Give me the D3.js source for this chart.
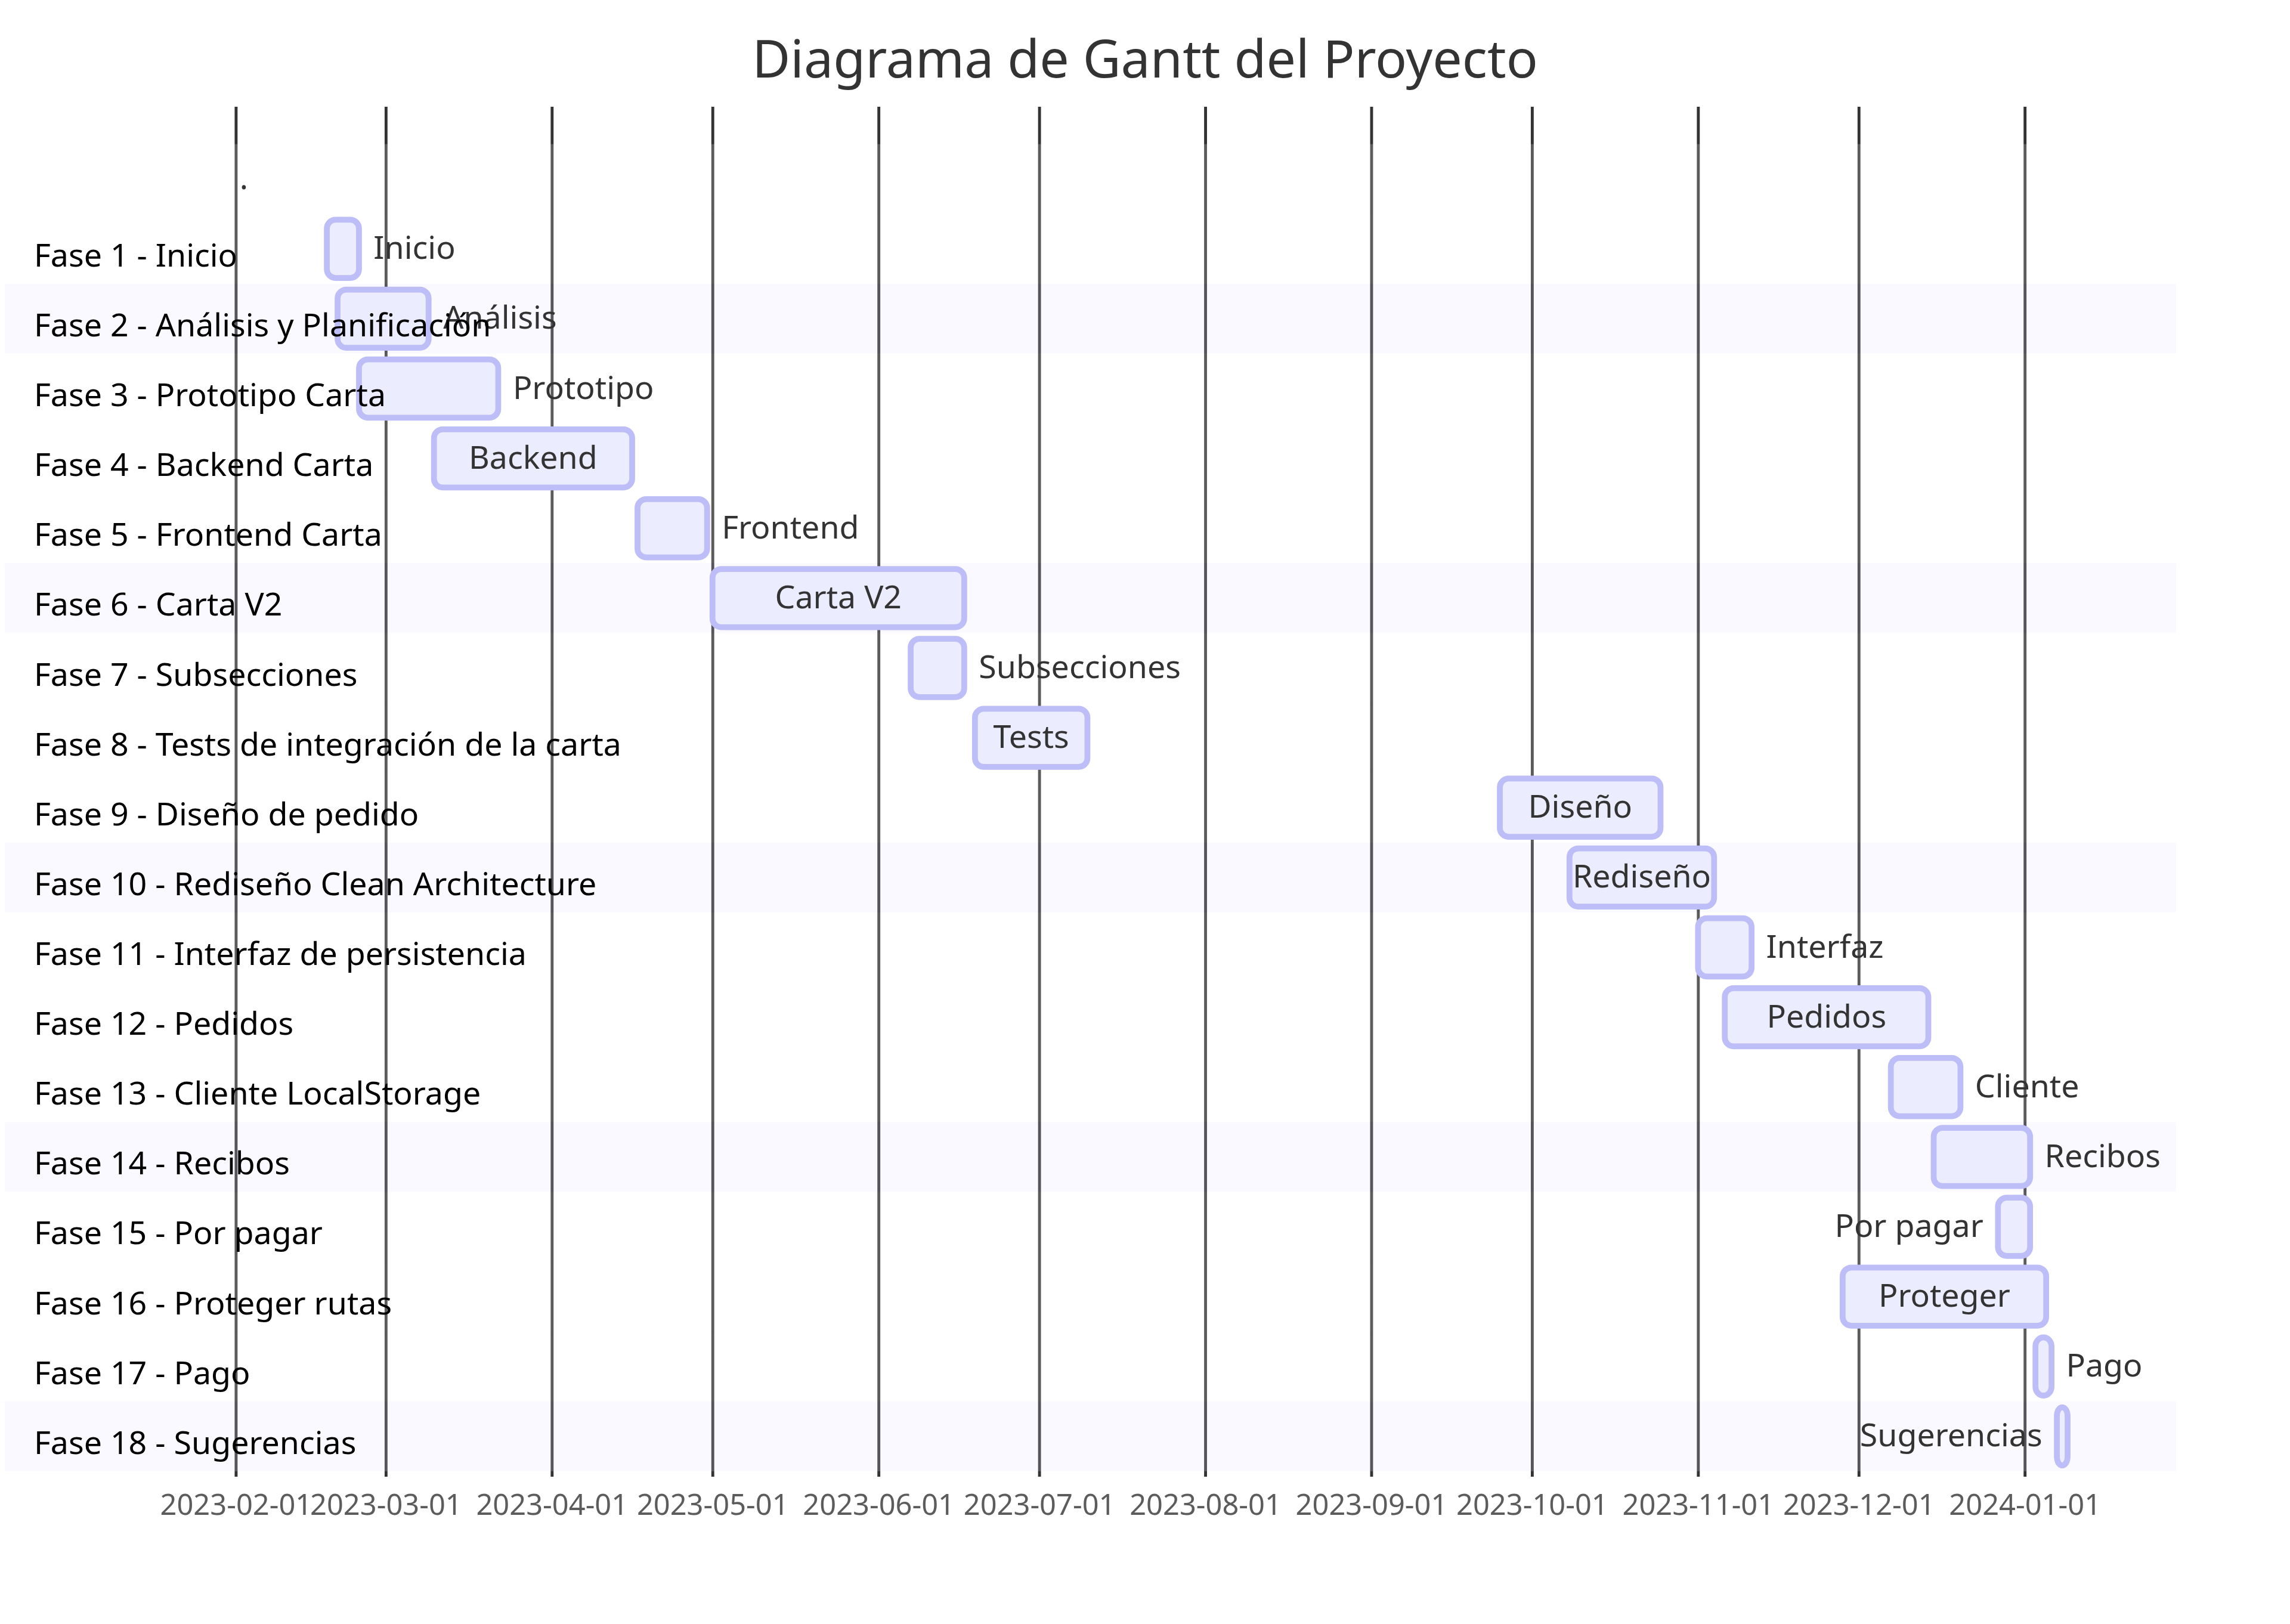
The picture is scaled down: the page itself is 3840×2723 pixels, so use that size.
<!DOCTYPE html>
<html>
<head>
<meta charset="utf-8">
<script src="https://cdn.jsdelivr.net/npm/d3@7"></script>
<style>
  body { margin: 0; background: #ffffff; }
  svg { display: block; }
  text { font-family: "Noto Sans", "Open Sans", sans-serif; }
</style>
</head>
<body>
<svg id="chart" width="3840" height="2723"></svg>
<script>
// ---------------- data ----------------
const chartTitle = "Diagrama de Gantt del Proyecto";

const sectionLabels = [
  "",
  "Fase 1 - Inicio",
  "Fase 2 - Análisis y Planificación",
  "Fase 3 - Prototipo Carta",
  "Fase 4 - Backend Carta",
  "Fase 5 - Frontend Carta",
  "Fase 6 - Carta V2",
  "Fase 7 - Subsecciones",
  "Fase 8 - Tests de integración de la carta",
  "Fase 9 - Diseño de pedido",
  "Fase 10 - Rediseño Clean Architecture",
  "Fase 11 - Interfaz de persistencia",
  "Fase 12 - Pedidos",
  "Fase 13 - Cliente LocalStorage",
  "Fase 14 - Recibos",
  "Fase 15 - Por pagar",
  "Fase 16 - Proteger rutas",
  "Fase 17 - Pago",
  "Fase 18 - Sugerencias"
];

const taskNames = [
  ".", "Inicio", "Análisis", "Prototipo", "Backend", "Frontend", "Carta V2",
  "Subsecciones", "Tests", "Diseño", "Rediseño", "Interfaz", "Pedidos",
  "Cliente", "Recibos", "Por pagar", "Proteger", "Pago", "Sugerencias"
];

const taskStarts = [
  "2023-01-30", "2023-02-18", "2023-02-20", "2023-02-24", "2023-03-10",
  "2023-04-17", "2023-05-01", "2023-06-07", "2023-06-19", "2023-09-25",
  "2023-10-08", "2023-11-01", "2023-11-06", "2023-12-07", "2023-12-15",
  "2023-12-27", "2023-11-28", "2024-01-03", "2024-01-07"
];

const taskEnds = [
  "2023-01-30", "2023-02-24", "2023-03-09", "2023-03-22", "2023-04-16",
  "2023-04-30", "2023-06-17", "2023-06-17", "2023-07-10", "2023-10-25",
  "2023-11-04", "2023-11-11", "2023-12-14", "2023-12-20", "2024-01-02",
  "2024-01-02", "2024-01-05", "2024-01-06", "2024-01-09"
];

const tickDates = [
  "2023-02-01", "2023-03-01", "2023-04-01", "2023-05-01", "2023-06-01",
  "2023-07-01", "2023-08-01", "2023-09-01", "2023-10-01", "2023-11-01",
  "2023-12-01", "2024-01-01"
];

const stripedRows = [2, 6, 10, 14, 18];

// ---------------- layout ----------------
const U = 4.88;                 // one mermaid unit in px
const parse = d3.utcParse("%Y-%m-%d");
const fmt = d3.utcFormat("%Y-%m-%d");

const tasks = taskNames.map((name, i) => ({
  i, name, section: sectionLabels[i],
  start: parse(taskStarts[i]), end: parse(taskEnds[i])
}));

const svg = d3.select("#chart");

const x = d3.scaleUtc()
  .domain([parse(tickDates[0]), parse(tickDates[tickDates.length - 1])])
  .range([395.4, 3395.2]);

const rowTop = 241.6, rowH = 24 * U;
const y = d3.scaleBand()
  .domain(d3.range(tasks.length))
  .range([rowTop, rowTop + rowH * tasks.length])
  .paddingInner(0).paddingOuter(0);

const gridTop = 179, axisY = 2476;

// grid / axis
const axis = d3.axisBottom(x)
  .tickValues(tickDates.map(parse))
  .tickFormat(fmt)
  .tickSize(-(axisY - gridTop))
  .tickPadding(29);

const gAxis = svg.append("g")
  .attr("transform", `translate(0,${axisY})`)
  .call(axis);
gAxis.select(".domain").remove();
gAxis.selectAll(".tick line")
  .attr("stroke", "#333333")
  .attr("stroke-width", U);
gAxis.selectAll(".tick text")
  .attr("fill", "#5c5c5c")
  .style("font-size", (10 * U) + "px")
  .style("font-family", "'Noto Sans', sans-serif");

// row backgrounds
svg.append("g").selectAll("rect")
  .data(tasks)
  .join("rect")
  .attr("x", 8)
  .attr("width", 3649 - 8)
  .attr("y", d => y(d.i))
  .attr("height", y.bandwidth())
  .attr("fill", d => stripedRows.includes(d.i) ? "#e0e0ff" : "#ffffff")
  .attr("opacity", 0.2);

// bars
const barH = 20 * U, barOff = 2 * U;
svg.append("g").selectAll("rect")
  .data(tasks.filter(d => +d.end > +d.start))
  .join("rect")
  .attr("x", d => x(d.start))
  .attr("width", d => x(d.end) - x(d.start))
  .attr("y", d => y(d.i) + barOff)
  .attr("height", barH)
  .attr("rx", 3 * U).attr("ry", 3 * U)
  .attr("fill", "#ececff")
  .attr("stroke", "#bdbdf8")
  .attr("stroke-width", 2 * U);

// task labels (mermaid placement rule)
const fontTask = 11 * U;
const sidePad = 75 * U, limitW = 3810;
const gText = svg.append("g");
tasks.forEach(d => {
  const sx = x(d.start), ex = x(d.end);
  const t = gText.append("text")
    .attr("y", y(d.i) + barOff + barH / 2 + 3.5 * U)
    .attr("fill", "#333333")
    .style("font-size", fontTask + "px")
    .text(d.name);
  const tw = t.node().getComputedTextLength();
  if (tw > ex - sx) {
    if ((ex - sidePad) + tw + 1.5 * sidePad > limitW) {
      t.attr("x", sx - 5 * U).attr("text-anchor", "end");
    } else {
      t.attr("x", ex + 5 * U).attr("text-anchor", "start");
    }
  } else {
    t.attr("x", (sx + ex) / 2).attr("text-anchor", "middle");
  }
});

// section labels
svg.append("g").selectAll("text")
  .data(tasks)
  .join("text")
  .attr("x", 57)
  .attr("y", d => y(d.i) + y.bandwidth() / 2 + 29.5)
  .attr("fill", "#000000")
  .style("font-size", fontTask + "px")
  .text(d => d.section);

// title
svg.append("text")
  .attr("x", 1920)
  .attr("y", 130)
  .attr("text-anchor", "middle")
  .attr("fill", "#333333")
  .style("font-size", (18 * U) + "px")
  .text(chartTitle);
</script>
</body>
</html>
